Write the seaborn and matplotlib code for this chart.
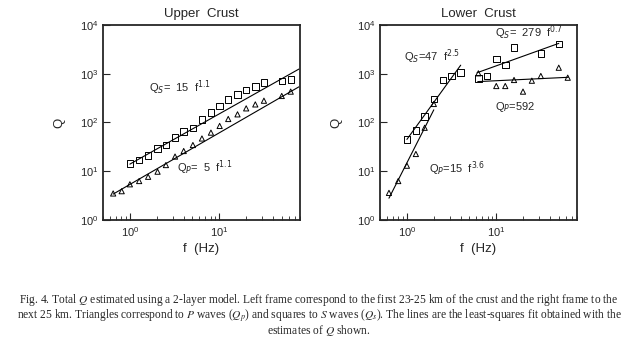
import numpy as np
import pandas as pd
import matplotlib
matplotlib.use("Agg")
import matplotlib.pyplot as plt
import seaborn as sns
from matplotlib.ticker import LogLocator, NullLocator

# --- data ---
# Upper crust
up_fs = [1.0, 1.27, 1.6, 2.04, 2.53, 3.2, 4.0, 5.07, 6.4, 8.07, 10.1, 12.6, 16.0, 20.0, 25.3, 31.6, 50.2, 63.2]
up_qs = [14.5, 17, 21, 29.5, 34.5, 49, 65, 78, 116, 160, 218, 299, 378, 464, 543, 656, 710, 769]
up_fp = [0.65, 0.81, 1.0, 1.27, 1.6, 2.04, 2.53, 3.2, 4.0, 5.07, 6.4, 8.07, 10.1, 12.6, 16.0, 20.0, 25.3, 31.6, 50.0, 63.0]
up_qp = [3.5, 3.9, 5.4, 6.3, 7.7, 9.8, 13.4, 20, 26, 34.5, 47, 62, 85, 118, 147, 195, 235, 280, 350, 430]
# fitted lines (end points)
up_fit_s_f, up_fit_s_q = [1.0, 78.0], [14.0, 1250.0]
up_fit_p_f, up_fit_p_q = [0.65, 78.0], [3.4, 540.0]

# Lower crust
lo_fs = [1.0, 1.26, 1.58, 2.0, 2.52, 3.17, 3.97, 6.3, 7.9, 10.0, 12.6, 15.8, 31.5, 50.0]
lo_qs = [45, 68, 132, 304, 745, 895, 1050, 795, 895, 1990, 1510, 3430, 2630, 4070]
lo_fp = [0.63, 0.80, 1.0, 1.26, 1.58, 2.0, 6.3, 10.0, 12.6, 15.8, 19.9, 25.0, 31.5, 50.0, 63.0]
lo_qp = [3.6, 6.3, 13, 22.6, 78, 240, 1020, 560, 560, 745, 430, 720, 900, 1330, 830]
lo_fit_s1_f, lo_fit_s1_q = [1.0, 4.0], [45.0, 1500.0]
lo_fit_p1_f, lo_fit_p1_q = [0.63, 2.0], [2.8, 182.0]
lo_fit_s2_f, lo_fit_s2_q = [6.1, 50.0], [1050.0, 4200.0]
lo_fit_p2_f, lo_fit_p2_q = [6.2, 64.0], [690.0, 846.0]

caption_lines = [
    r"Fig. 4. Total $Q$ estimated using a 2-layer model. Left frame correspond to the first 23-25 km of the crust and the right frame to the",
    r"next 25 km. Triangles correspond to $P$ waves ($Q_p$) and squares to $S$ waves ($Q_s$). The lines are the least-squares fit obtained with the",
    r"estimates of $Q$ shown.",
]

sns.set_style("ticks")
plt.rcParams.update({
    "font.family": ["Liberation Sans", "DejaVu Sans"],
    "xtick.direction": "in", "ytick.direction": "in",
    "xtick.major.size": 5, "ytick.major.size": 5,
    "xtick.minor.size": 3,
    "axes.linewidth": 1.3,
    "xtick.labelsize": 8, "ytick.labelsize": 8,
})

fig = plt.figure(figsize=(6.38, 3.37), dpi=100)
ax1 = fig.add_axes([0.1614, 0.3472, 0.3088, 0.5786])
ax2 = fig.add_axes([0.5956, 0.3472, 0.3088, 0.5786])


def draw_points(ax, f, q, marker, size):
    df = pd.DataFrame({"f": f, "Q": q})
    sns.scatterplot(data=df, x="f", y="Q", ax=ax, marker=marker, s=size,
                    facecolor="none", edgecolor="black", linewidth=0.7, zorder=3)


def draw_fit(ax, f, q):
    df = pd.DataFrame({"f": f, "Q": q})
    sns.lineplot(data=df, x="f", y="Q", ax=ax, color="black", lw=0.8,
                 estimator=None, sort=False)


draw_points(ax1, up_fs, up_qs, "s", 22)
draw_points(ax1, up_fp, up_qp, "^", 14)
draw_fit(ax1, up_fit_s_f, up_fit_s_q)
draw_fit(ax1, up_fit_p_f, up_fit_p_q)

draw_points(ax2, lo_fs, lo_qs, "s", 22)
draw_points(ax2, lo_fp, lo_qp, "^", 14)
draw_fit(ax2, lo_fit_s1_f, lo_fit_s1_q)
draw_fit(ax2, lo_fit_p1_f, lo_fit_p1_q)
draw_fit(ax2, lo_fit_s2_f, lo_fit_s2_q)
draw_fit(ax2, lo_fit_p2_f, lo_fit_p2_q)

for ax, title in [(ax1, "Upper  Crust"), (ax2, "Lower  Crust")]:
    ax.set_xscale("log")
    ax.set_yscale("log")
    ax.set_xlim(0.5, 80)
    ax.set_ylim(1, 1e4)
    ax.set_yticks([1, 10, 100, 1000, 10000])
    ax.yaxis.set_minor_locator(NullLocator())
    ax.xaxis.set_major_locator(LogLocator(base=10))
    ax.xaxis.set_minor_locator(LogLocator(base=10, subs=np.arange(2, 10)))
    ax.set_title(title, fontsize=9.5, pad=6)
    ax.set_xlabel("f  (Hz)", fontsize=9.5, labelpad=3)
    ax.set_ylabel("Q", fontsize=9.5, labelpad=10)
    for s in ax.spines.values():
        s.set_visible(True)

kw = dict(fontsize=8, ha="left", va="center")
ax1.text(1.65, 520, r"Q$_S$=  15  f$^{1.1}$", **kw)
ax1.text(3.4, 12, r"Q$_P$=  5  f$^{1.1}$", **kw)
ax2.text(0.93, 2250, r"Q$_S$=47  f$^{2.5}$", **kw)
ax2.text(9.6, 7000, r"Q$_S$=  279  f$^{0.7}$", **kw)
ax2.text(9.6, 210, r"Q$_P$=592", **kw)
ax2.text(1.78, 11.5, r"Q$_P$=15  f$^{3.6}$", **kw)

# caption below the two frames, one multi-line block
fig.text(0.5, 1 - 315 / 337, "\n".join(caption_lines), fontsize=8.3,
         family="Liberation Serif", math_fontfamily="stix",
         ha="center", va="center", multialignment="center", linespacing=0.95)

fig.savefig("out.png", dpi=100, facecolor="white")
